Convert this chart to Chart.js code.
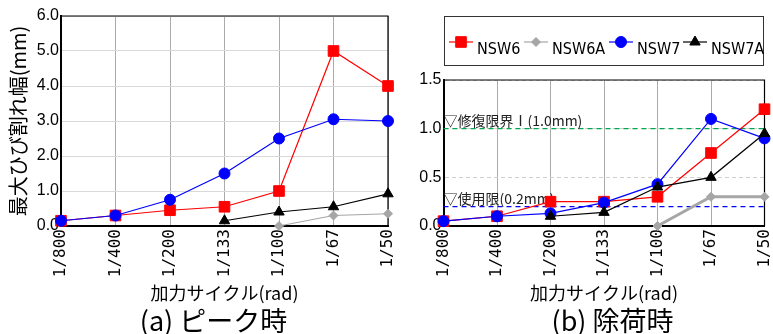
<!DOCTYPE html>
<html>
<head>
<meta charset="utf-8">
<script src="https://cdn.jsdelivr.net/npm/chart.js@4/dist/chart.umd.min.js"></script>
<style>
  html, body { margin: 0; padding: 0; background: #fff; }
  #wrap { position: relative; width: 773px; height: 334px; overflow: hidden; background: #fff; }
  #peak { position: absolute; left: 0; top: 0; }
  #unload { position: absolute; left: 400px; top: 0; }
</style>
</head>
<body>
<div id="wrap">
  <canvas id="peak" width="400" height="334"></canvas>
  <canvas id="unload" width="373" height="334"></canvas>
</div>
<script>
// Loading cycles (drift angle, rad)
const cycles = ['1/800', '1/400', '1/200', '1/133', '1/100', '1/67', '1/50'];
const seriesNames = ['NSW6', 'NSW6A', 'NSW7', 'NSW7A'];

// (a) maximum crack width at peak (mm)
const peakNSW6  = [0.15, 0.30, 0.45, 0.55, 1.00, 5.00, 4.00];
const peakNSW6A = [null, null, null, null, 0.00, 0.30, 0.35];
const peakNSW7  = [0.15, 0.30, 0.75, 1.50, 2.50, 3.05, 3.00];
const peakNSW7A = [null, null, null, 0.15, 0.40, 0.55, 0.92];

// (b) residual crack width after unloading (mm)
const unloadNSW6  = [0.05, 0.10, 0.25, 0.25, 0.30, 0.75, 1.20];
const unloadNSW6A = [null, null, null, null, 0.00, 0.30, 0.30];
const unloadNSW7  = [0.05, 0.10, 0.13, 0.24, 0.43, 1.10, 0.90];
const unloadNSW7A = [null, null, 0.10, 0.14, 0.40, 0.50, 0.95];

// y-axis tick values
const peakYTicks   = [0, 1, 2, 3, 4, 5, 6];
const unloadYTicks = [0, 0.5, 1.0, 1.5];

// crack-width limits shown on the unloading chart
const limitValues = [1.0, 0.2];
const limitLabels = ['▽修復限界Ⅰ(1.0mm)', '▽使用限(0.2mm)'];

const fontJP     = '"Noto Sans CJK JP", "Noto Sans", sans-serif';
const fontNum    = '"Liberation Sans", Arial, sans-serif';
const fontMono   = '"DejaVu Sans Mono", "Liberation Mono", monospace';
const fontLegend = '"DejaVu Sans Condensed", "Liberation Sans", Arial, sans-serif';

const seriesStyles = [
  { color: '#ff0000', pointStyle: 'rect',     radius: 7.5 },
  { color: '#a6a6a6', pointStyle: 'rectRot',  radius: 4.5 },
  { color: '#0000ff', pointStyle: 'circle',   radius: 5.5 },
  { color: '#000000', pointStyle: 'triangle', radius: 6   }
];
const limitColors = ['#00a651', '#0000ff'];

function buildDatasets(values, grayWidth) {
  return values.map((data, i) => {
    const s = seriesStyles[i];
    return {
      label: seriesNames[i],
      data: data,
      borderColor: s.color,
      backgroundColor: s.color,
      pointBackgroundColor: s.color,
      pointBorderColor: s.color,
      pointStyle: s.pointStyle,
      pointRadius: s.radius,
      pointHoverRadius: s.radius,
      pointBorderWidth: 1,
      borderWidth: i === 1 ? grayWidth : 1.2,
      tension: 0,
      spanGaps: false,
      clip: false,
      order: 4 - i
    };
  });
}

// top and right edges of the plot frame
const framePlugin = {
  id: 'frame',
  beforeDatasetsDraw(chart) {
    const { ctx, chartArea: a } = chart;
    ctx.save();
    ctx.strokeStyle = '#000';
    ctx.lineWidth = 1.2;
    ctx.beginPath();
    ctx.moveTo(a.left, a.top);
    ctx.lineTo(a.right, a.top);
    ctx.lineTo(a.right, a.bottom);
    ctx.stroke();
    ctx.restore();
  }
};

// caption under each chart
const captionPlugin = {
  id: 'caption',
  afterDraw(chart, args, opts) {
    const { ctx, chartArea: a } = chart;
    ctx.save();
    ctx.font = '27px ' + fontJP;
    ctx.fillStyle = '#000';
    ctx.textAlign = 'center';
    ctx.textBaseline = 'middle';
    ctx.fillText(opts.text, (a.left + a.right) / 2 + opts.dx, 321);
    ctx.restore();
  }
};

// dashed limit lines with their labels
const limitPlugin = {
  id: 'limits',
  beforeDatasetsDraw(chart, args, opts) {
    if (!opts.show) return;
    const { ctx, chartArea: a, scales: { y } } = chart;
    limitValues.forEach((v, i) => {
      const py = y.getPixelForValue(v);
      ctx.save();
      ctx.strokeStyle = limitColors[i];
      ctx.lineWidth = 1.2;
      ctx.setLineDash([5, 4]);
      ctx.beginPath();
      ctx.moveTo(a.left, py);
      ctx.lineTo(a.right, py);
      ctx.stroke();
      ctx.setLineDash([]);
      ctx.font = '14px ' + fontJP;
      ctx.fillStyle = '#222';
      ctx.textAlign = 'left';
      ctx.textBaseline = 'middle';
      ctx.fillText(limitLabels[i], a.left, py - 7.5);
      ctx.restore();
    });
  }
};

// boxed legend: line + marker + name
const legendItemX = [49, 124, 209, 283];
const boxLegendPlugin = {
  id: 'boxLegend',
  afterDraw(chart, args, opts) {
    if (!opts.show) return;
    const ctx = chart.ctx;
    ctx.save();
    ctx.strokeStyle = '#333';
    ctx.lineWidth = 1;
    ctx.strokeRect(44.5, 16.5, 319, 49);
    ctx.font = '16px ' + fontLegend;
    ctx.textAlign = 'left';
    ctx.textBaseline = 'middle';
    const ly = 42;
    chart.data.datasets.forEach((ds, i) => {
      const s = seriesStyles[i];
      const x = legendItemX[i];
      ctx.strokeStyle = s.color;
      ctx.lineWidth = 1.2;
      ctx.beginPath();
      ctx.moveTo(x, ly);
      ctx.lineTo(x + 24, ly);
      ctx.stroke();
      ctx.fillStyle = s.color;
      ctx.strokeStyle = s.color;
      ctx.lineWidth = 1;
      Chart.helpers.drawPoint(ctx, { pointStyle: s.pointStyle, radius: s.radius, rotation: 0, borderWidth: 1 }, x + 12, ly);
      ctx.fillStyle = '#000';
      ctx.fillText(ds.label, x + 28, 50);
    });
    ctx.restore();
  }
};

function makeOptions(cfg) {
  return {
    responsive: false,
    animation: false,
    events: [],
    layout: { padding: { left: 0, top: cfg.top, right: cfg.right, bottom: 24 } },
    plugins: {
      legend: { display: false },
      tooltip: { enabled: false },
      title: { display: false },
      caption: { text: cfg.caption, dx: cfg.captionDx },
      limits: { show: cfg.limits },
      boxLegend: { show: cfg.legend }
    },
    scales: {
      x: {
        type: 'category',
        offset: false,
        grid: { color: '#ababab', lineWidth: 1, drawTicks: false },
        border: { display: true, color: '#000', width: 2 },
        ticks: {
          color: '#000',
          font: { family: fontMono, size: 16 },
          minRotation: 90, maxRotation: 90,
          padding: 3, autoSkip: false
        },
        title: {
          display: true, text: '加力サイクル(rad)', color: '#000',
          font: { family: fontJP, size: 18, lineHeight: 1 },
          padding: { top: 0, bottom: 8 }
        },
        afterFit(scale) {
          scale.height = 84;
          scale.paddingLeft = 0;
          scale.paddingRight = 0;
        }
      },
      y: {
        type: 'linear',
        min: cfg.yTicks[0],
        max: cfg.yTicks[cfg.yTicks.length - 1],
        afterBuildTicks(scale) {
          scale.ticks = cfg.yTicks.map(v => ({ value: v }));
        },
        grid: { color: cfg.yGridColor, lineWidth: 1, drawTicks: false },
        border: { display: true, color: '#000', width: 2, dash: cfg.yGridDash },
        ticks: {
          color: '#000',
          font: { family: fontNum, size: 16 },
          padding: 2,
          callback: v => Number(v).toFixed(1)
        },
        title: cfg.yTitle ? {
          display: true, text: cfg.yTitle, color: '#000',
          font: { family: fontJP, size: 20, lineHeight: 1 },
          padding: { top: 8, bottom: 0 }
        } : { display: false },
        afterFit(scale) {
          scale.width = cfg.yWidth;
        }
      }
    }
  };
}

Chart.register(framePlugin, captionPlugin, limitPlugin, boxLegendPlugin);

new Chart(document.getElementById('peak'), {
  type: 'line',
  data: {
    labels: cycles,
    datasets: buildDatasets([peakNSW6, peakNSW6A, peakNSW7, peakNSW7A], 1.2)
  },
  options: makeOptions({
    top: 16, right: 12, yWidth: 61,
    yTicks: peakYTicks,
    yGridColor: '#d9d9d9', yGridDash: [],
    yTitle: '最大ひび割れ幅(mm)',
    caption: '(a) ピーク時', captionDx: -11,
    limits: false, legend: false
  })
});

new Chart(document.getElementById('unload'), {
  type: 'line',
  data: {
    labels: cycles,
    datasets: buildDatasets([unloadNSW6, unloadNSW6A, unloadNSW7, unloadNSW7A], 3)
  },
  options: makeOptions({
    top: 80, right: 6, yWidth: 43.5,
    yTicks: unloadYTicks,
    yGridColor: '#cfcfcf', yGridDash: [4, 3],
    yTitle: null,
    caption: '(b) 除荷時', captionDx: 8.5,
    limits: true, legend: true
  })
});
</script>
</body>
</html>
